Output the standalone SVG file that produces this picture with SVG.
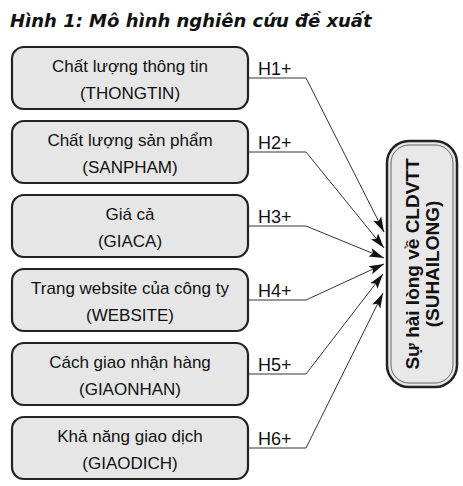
<svg xmlns="http://www.w3.org/2000/svg" width="463" height="486" viewBox="0 0 463 486">
<style>
.box{fill:#e6e6e6;stroke:#222;stroke-width:2.2}
.t{font-family:"Liberation Sans",Arial,sans-serif;font-size:17px;fill:#111;text-anchor:middle}
.h{font-family:"Liberation Sans",Arial,sans-serif;font-size:18px;fill:#111}
.c{fill:none;stroke:#333;stroke-width:1}
.title{font-family:"DejaVu Sans",sans-serif;font-size:18px;font-weight:bold;font-style:italic;fill:#111}
.r{font-family:"Liberation Sans",Arial,sans-serif;font-size:19px;font-weight:bold;fill:#111;text-anchor:middle}
</style>
<defs>
<marker id="ah" markerUnits="userSpaceOnUse" markerWidth="18" markerHeight="12" refX="15" refY="0" viewBox="0 -6 18 12" orient="auto">
<path d="M0,-4.5 L15,0 L0,4.5 L3,0 z" fill="#111"/>
</marker>
</defs>
<rect width="463" height="486" fill="#fff"/>
<text class="title" x="10" y="27">Hình 1: Mô hình nghiên cứu đề xuất</text>
<g id="n1"><rect class="box" x="12" y="47" width="236" height="62" rx="12"/><text class="t" x="130" y="72">Chất lượng thông tin</text><text class="t" x="130" y="99">(THONGTIN)</text></g>
<g id="n2"><rect class="box" x="12" y="121" width="236" height="62" rx="12"/><text class="t" x="130" y="146">Chất lượng sản phẩm</text><text class="t" x="130" y="173">(SANPHAM)</text></g>
<g id="n3"><rect class="box" x="12" y="195" width="236" height="62" rx="12"/><text class="t" x="130" y="220">Giá cả</text><text class="t" x="130" y="247">(GIACA)</text></g>
<g id="n4"><rect class="box" x="12" y="269" width="236" height="62" rx="12"/><text class="t" x="130" y="294">Trang website của công ty</text><text class="t" x="130" y="321">(WEBSITE)</text></g>
<g id="n5"><rect class="box" x="12" y="343" width="236" height="62" rx="12"/><text class="t" x="130" y="368">Cách giao nhận hàng</text><text class="t" x="130" y="395">(GIAONHAN)</text></g>
<g id="n6"><rect class="box" x="12" y="417" width="236" height="62" rx="12"/><text class="t" x="130" y="442">Khả năng giao dịch</text><text class="t" x="130" y="469">(GIAODICH)</text></g>
<g id="target">
<rect x="387" y="141" width="70" height="246" rx="22" fill="#e8e8e8" stroke="#222" stroke-width="2.5"/>
<rect x="391" y="145" width="62" height="238" rx="18" fill="none" stroke="#444" stroke-width="0.8"/>
<g transform="translate(422,264) rotate(-90)">
<text class="r" x="0" y="-3">Sự hài lòng về CLDVTT</text>
<text class="r" x="0" y="17">(SUHAILONG)</text>
</g>
</g>
<g id="connectors">
<polyline class="c" points="248,78 306,78 384,232" marker-end="url(#ah)"/>
<polyline class="c" points="248,152 306,152 384,248" marker-end="url(#ah)"/>
<polyline class="c" points="248,226 306,226 384,258" marker-end="url(#ah)"/>
<polyline class="c" points="248,300 306,300 384,264" marker-end="url(#ah)"/>
<polyline class="c" points="248,374 306,374 383,274" marker-end="url(#ah)"/>
<polyline class="c" points="248,448 306,448 383,293" marker-end="url(#ah)"/>
<text class="h" x="258" y="75">H1+</text>
<text class="h" x="258" y="149">H2+</text>
<text class="h" x="258" y="223">H3+</text>
<text class="h" x="258" y="297">H4+</text>
<text class="h" x="258" y="371">H5+</text>
<text class="h" x="258" y="445">H6+</text>
</g>
</svg>
